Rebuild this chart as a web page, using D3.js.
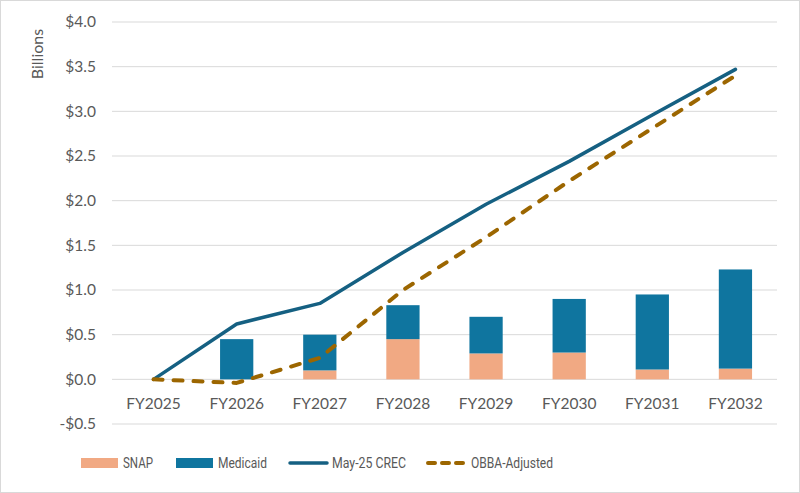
<!DOCTYPE html>
<html><head><meta charset="utf-8">
<script src="https://cdn.jsdelivr.net/npm/d3@7"></script>
<style>
body{margin:0;background:#fff;}
text{font-family:Lato,"Noto Sans",sans-serif;fill:#595959;}
.lg{font-family:Roboto,sans-serif;}
</style></head>
<body><svg id="c" width="800" height="493"></svg>
<script>
const categories=["FY2025","FY2026","FY2027","FY2028","FY2029","FY2030","FY2031","FY2032"];
const snap=[0,0,0.10,0.45,0.29,0.30,0.11,0.12];
const medicaid=[0,0.45,0.40,0.38,0.41,0.60,0.84,1.11];
const crec=[0,0.62,0.85,1.42,1.96,2.44,2.96,3.47];
const obba=[0,-0.04,0.24,1.00,1.59,2.22,2.81,3.40];
const yTicks=[-0.5,0,0.5,1,1.5,2,2.5,3,3.5,4];

const svg=d3.select("#c");
svg.append("rect").attr("x",0.5).attr("y",0.5).attr("width",799).attr("height",492)
  .attr("fill","#fff").attr("stroke","#d9d9d9");

const x=d3.scaleBand().domain(categories).range([112,777]).paddingInner(0.6).paddingOuter(0.3);
const y=d3.scaleLinear().domain([-0.5,4]).range([424,22]);

svg.append("g").selectAll("line").data(yTicks).join("line")
  .attr("x1",112).attr("x2",777).attr("y1",d=>y(d)).attr("y2",d=>y(d))
  .attr("stroke","#d9d9d9").attr("stroke-width",1);

const fmt=d=>(d<0?"-$":"$")+Math.abs(d).toFixed(1);
svg.append("g").selectAll("text").data(yTicks).join("text")
  .attr("x",96).attr("y",d=>y(d)).attr("dy","0.35em").attr("text-anchor","end")
  .attr("font-size",15.5).text(fmt);

svg.append("text").attr("transform","translate(43,54) rotate(-90)")
  .attr("text-anchor","middle").attr("font-size",16).text("Billions");

svg.append("g").selectAll("text").data(categories).join("text")
  .attr("x",d=>x(d)+x.bandwidth()/2).attr("y",409).attr("text-anchor","middle")
  .attr("font-size",15.5).text(d=>d);

const bw=x.bandwidth();
svg.append("g").selectAll("rect").data(categories).join("rect")
  .attr("x",d=>x(d)).attr("width",bw)
  .attr("y",(d,i)=>y(snap[i])).attr("height",(d,i)=>y(0)-y(snap[i]))
  .attr("fill","#F1A983");
svg.append("g").selectAll("rect").data(categories).join("rect")
  .attr("x",d=>x(d)).attr("width",bw)
  .attr("y",(d,i)=>y(snap[i]+medicaid[i])).attr("height",(d,i)=>y(snap[i])-y(snap[i]+medicaid[i]))
  .attr("fill","#0F759F");

const cx=d=>x(d)+bw/2;
const line=d3.line().x((d,i)=>cx(categories[i])).y(d=>y(d));
svg.append("path").attr("d",line(crec)).attr("fill","none").attr("stroke","#156082")
  .attr("stroke-width",3.5).attr("stroke-linejoin","round").attr("stroke-linecap","round");
svg.append("path").attr("d",line(obba)).attr("fill","none").attr("stroke","#9C6600")
  .attr("stroke-width",4).attr("stroke-dasharray","9,11").attr("stroke-linecap","round").attr("stroke-linejoin","round");

const lg=svg.append("g");
const ly=463;
function ltext(xp,t,len){
  lg.append("text").attr("class","lg").attr("x",xp).attr("y",ly).attr("dy","0.36em")
    .attr("font-size",15).attr("textLength",len).attr("lengthAdjust","spacingAndGlyphs").text(t);
}
lg.append("rect").attr("x",81).attr("y",ly-5).attr("width",37).attr("height",10).attr("fill","#F1A983");
ltext(123,"SNAP",30);
lg.append("rect").attr("x",176).attr("y",ly-5).attr("width",37).attr("height",10).attr("fill","#0F759F");
ltext(218,"Medicaid",49);
lg.append("line").attr("x1",290).attr("x2",327).attr("y1",ly).attr("y2",ly).attr("stroke","#156082").attr("stroke-width",3.5).attr("stroke-linecap","round");
ltext(332,"May-25 CREC",74);
lg.append("line").attr("x1",428).attr("x2",465).attr("y1",ly).attr("y2",ly).attr("stroke","#9C6600").attr("stroke-width",4).attr("stroke-dasharray","7,7").attr("stroke-linecap","round");
ltext(471,"OBBA-Adjusted",82);
</script></body></html>
